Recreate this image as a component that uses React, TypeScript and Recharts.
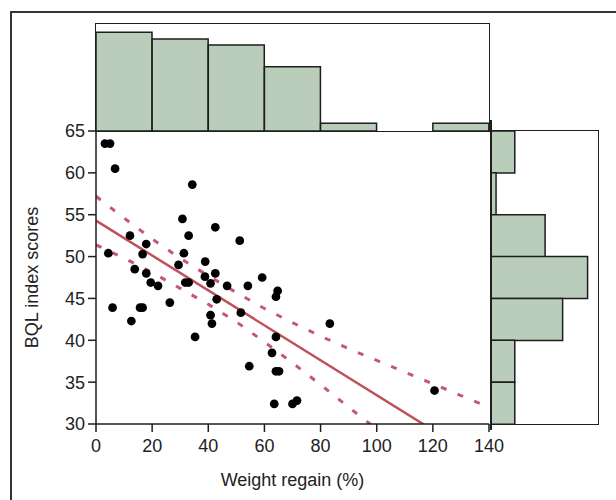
import React from 'react';
import {
  ComposedChart, BarChart, Bar, Line, Scatter, XAxis, YAxis, ZAxis,
} from 'recharts';

// ---- Scatter data (weight regain %, BQL index score) ----
const regainX = [3.2, 5.0, 6.8, 34.3, 30.8, 42.5, 33.0, 12.1, 17.9, 4.4, 16.6, 31.3, 29.4, 38.9, 13.8, 17.9, 42.5, 38.8, 19.5, 22.1, 31.8, 33.0, 40.8, 46.7, 43.0, 26.3, 5.9, 15.7, 16.6, 40.8, 41.3, 12.6, 35.3, 51.2, 59.2, 54.1, 64.7, 64.1, 51.6, 83.3, 64.1, 62.7, 54.6, 64.1, 65.2, 63.5, 70.0, 71.6, 120.6];
const bqlY = [63.5, 63.5, 60.5, 58.6, 54.5, 53.5, 52.5, 52.5, 51.5, 50.4, 50.3, 50.4, 49.0, 49.4, 48.5, 48.0, 48.0, 47.6, 46.9, 46.5, 46.9, 46.9, 46.8, 46.5, 44.9, 44.5, 43.9, 43.9, 43.9, 43.0, 42.0, 42.3, 40.4, 51.9, 47.5, 46.5, 45.9, 45.2, 43.3, 42.0, 40.4, 38.5, 36.9, 36.3, 36.3, 32.4, 32.4, 32.8, 34.0];

// ---- Fitted regression line ----
const fitX = [0, 140];
const fitY = [54.3, 25.1];

// ---- Confidence band ----
const bandX = [0, 10, 20, 30, 40, 50, 60, 70, 80, 90, 100, 110, 120, 130, 140];
const bandUpper = [57.2, 54.6, 52.1, 49.8, 47.7, 45.7, 43.8, 42.1, 40.5, 39.0, 37.6, 36.2, 34.8, 33.4, 32.0];
const bandLower = [51.4, 49.8, 48.1, 46.2, 44.3, 42.2, 39.8, 37.3, 34.7, 32.0, 29.4, 26.7, 24.0, 21.3, 18.6];

// ---- Top histogram (weight regain, percent) ----
const regainBins = ['0-20', '20-40', '40-60', '60-80', '80-100', '100-120', '120-140'];
const regainPct = [27.7, 25.8, 24.1, 18.0, 2.2, 0, 2.2];

// ---- Right histogram (BQL, percent), top to bottom ----
const bqlBins = ['60-65', '55-60', '50-55', '45-50', '40-45', '35-40', '30-35'];
const bqlPct = [8.0, 1.7, 18.2, 32.5, 24.1, 8.0, 8.0];

// ---- Tick labels ----
const xTicks = [0, 20, 40, 60, 80, 100, 120, 140];
const yTicks = [30, 35, 40, 45, 50, 55, 60, 65];

const scatterData = regainX.map((x, i) => ({ x, y: bqlY[i] }));
const fitData = fitX.map((x, i) => ({ x, fit: fitY[i] }));
const bandData = bandX.map((x, i) => ({ x, upper: bandUpper[i], lower: bandLower[i] }));
const topData = regainBins.map((b, i) => ({ bin: b, pct: regainPct[i] }));
const rightData = bqlBins.map((b, i) => ({ bin: b, pct: bqlPct[i] }));

const FONT = '"Liberation Sans", Arial, sans-serif';
const INK = '#1e1e1e';
const GREEN = '#BACCBA';
const RED = '#C0505A';
const DASH = '#C4567A';

const box = (left: number, top: number, width: number, height: number): React.CSSProperties => ({
  position: 'absolute', left, top, width, height, border: `1.5px solid ${INK}`,
  boxSizing: 'border-box', pointerEvents: 'none',
});

export default function App() {
  return (
    <div style={{ position: 'absolute', left: 0, top: 0, width: 616, height: 500, overflow: 'hidden', background: '#fff', fontFamily: FONT }}>
      {/* outer frame */}
      <div style={{ position: 'absolute', left: 10, top: 11, width: 640, height: 540, border: '2px solid #333', boxSizing: 'border-box' }} />

      {/* top histogram */}
      <div style={{ position: 'absolute', left: 96, top: 24 }}>
        <BarChart width={393} height={107} data={topData} margin={{ top: 0, right: 0, bottom: 0, left: 0 }} barCategoryGap={0}>
          <XAxis dataKey="bin" hide />
          <YAxis domain={[0, 30]} hide />
          <Bar dataKey="pct" fill={GREEN} stroke={INK} strokeWidth={1.5} isAnimationActive={false} />
        </BarChart>
      </div>
      <div style={box(95, 23, 395, 109)} />

      {/* right histogram */}
      <div style={{ position: 'absolute', left: 491, top: 131 }}>
        <BarChart width={107} height={293} data={rightData} layout="vertical" margin={{ top: 0, right: 0, bottom: 0, left: 0 }} barCategoryGap={0}>
          <XAxis type="number" domain={[0, 36]} hide />
          <YAxis type="category" dataKey="bin" hide />
          <Bar dataKey="pct" fill={GREEN} stroke={INK} strokeWidth={1.5} isAnimationActive={false} />
        </BarChart>
      </div>
      <div style={box(490, 130, 109, 295)} />
      <div style={{ position: 'absolute', left: 490, top: 120, width: 1.5, height: 310, background: INK }} />

      {/* main scatter */}
      <div style={{ position: 'absolute', left: -32, top: 0 }}>
        <ComposedChart width={648} height={500} margin={{ top: 131, right: 127, bottom: 6, left: 0 }}>
          <XAxis
            type="number" dataKey="x" domain={[0, 140]} ticks={xTicks} interval={0}
            axisLine={{ stroke: INK, strokeWidth: 1.5 }} tickLine={{ stroke: INK, strokeWidth: 1.5 }}
            tickSize={8} tickMargin={7} height={70}
            tick={{ fill: '#222', fontSize: 18, fontFamily: FONT }}
            label={{ value: 'Weight regain (%)', position: 'insideBottom', offset: 8, fill: '#222', fontSize: 18, fontFamily: FONT }}
          />
          <YAxis
            type="number" dataKey="y" domain={[30, 65]} ticks={yTicks} interval={0} allowDataOverflow
            axisLine={{ stroke: INK, strokeWidth: 1.5 }} tickLine={{ stroke: INK, strokeWidth: 1.5 }}
            tickSize={8} tickMargin={3} width={128}
            tick={{ fill: '#222', fontSize: 18, fontFamily: FONT }}
            label={{ value: 'BQL index scores', angle: -90, position: 'center', fill: '#222', fontSize: 18, fontFamily: FONT }}
          />
          <ZAxis range={[60, 60]} />
          <Line data={bandData} dataKey="upper" type="linear" stroke={DASH} strokeWidth={3} strokeDasharray="6 12" dot={false} isAnimationActive={false} />
          <Line data={bandData} dataKey="lower" type="linear" stroke={DASH} strokeWidth={3} strokeDasharray="6 12" dot={false} isAnimationActive={false} />
          <Line data={fitData} dataKey="fit" type="linear" stroke={RED} strokeWidth={2.5} dot={false} isAnimationActive={false} />
          <Scatter data={scatterData} fill="#000" isAnimationActive={false} />
        </ComposedChart>
      </div>
    </div>
  );
}
